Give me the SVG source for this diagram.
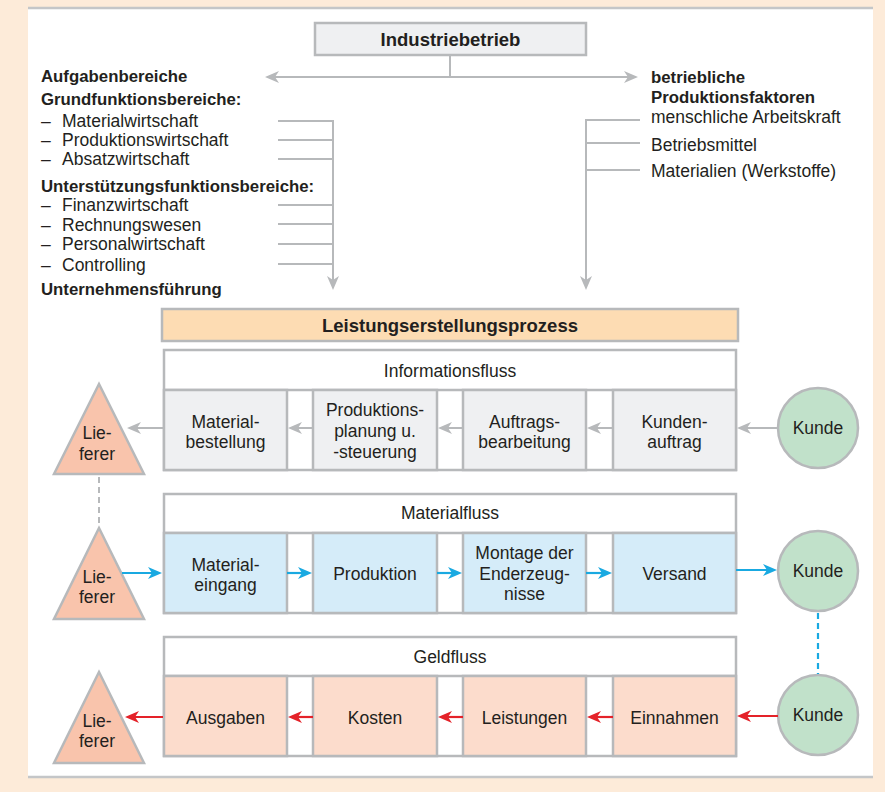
<svg xmlns="http://www.w3.org/2000/svg" width="885" height="792" viewBox="0 0 885 792">
<defs>
<style>
text{font-family:"Liberation Sans",Arial,Helvetica,sans-serif;fill:#231f20;font-size:17.5px}
.b{font-weight:bold;font-size:16.8px}
.c{text-anchor:middle}
.t{font-size:18.5px;font-weight:bold;text-anchor:middle}
.frame{fill:#fff;stroke:#b7b9bb;stroke-width:2.5}
.info{fill:#eff0f2;stroke:#b7b9bb;stroke-width:2.5}
.mat{fill:#d5ecf9;stroke:#b7b9bb;stroke-width:2.5}
.geld{fill:#fcdccc;stroke:#b7b9bb;stroke-width:2.5}
.tri{fill:#f9c4ac;stroke:#b7b9bb;stroke-width:2.5;stroke-linejoin:miter}
.cir{fill:#c1e1ca;stroke:#b7b9bb;stroke-width:2.5}
.gl{stroke:#b7b9bb;stroke-width:2;fill:none}
.bl{stroke:#19a9e1;stroke-width:2.2;fill:none}
.rl{stroke:#e42229;stroke-width:2.2;fill:none}
</style>
<marker id="ag" viewBox="0 0 14 12" refX="10" refY="6" markerWidth="14" markerHeight="12" markerUnits="userSpaceOnUse" orient="auto-start-reverse"><path d="M0,0 L14,6 L0,12 L4,6 z" fill="#b7b9bb"/></marker>
<marker id="ab" viewBox="0 0 14 12" refX="10" refY="6" markerWidth="14" markerHeight="12" markerUnits="userSpaceOnUse" orient="auto"><path d="M0,0 L14,6 L0,12 L4,6 z" fill="#19a9e1"/></marker>
<marker id="ar" viewBox="0 0 14 12" refX="10" refY="6" markerWidth="14" markerHeight="12" markerUnits="userSpaceOnUse" orient="auto"><path d="M0,0 L14,6 L0,12 L4,6 z" fill="#e42229"/></marker>
</defs>
<rect x="0" y="0" width="885" height="792" fill="#fdebd9"/>
<rect x="28" y="8" width="845" height="769" fill="#fff"/>
<line x1="28" y1="8" x2="873" y2="8" stroke="#c4c6c8" stroke-width="2.5"/>
<line x1="28" y1="777" x2="873" y2="777" stroke="#c4c6c8" stroke-width="2.5"/>

<g id="industriebetrieb">
<rect x="315" y="23" width="271" height="32" class="info"/>
<text x="450.5" y="46" class="t">Industriebetrieb</text>
</g>

<g id="aufgabenbereiche">
<text x="41" y="82" class="b">Aufgabenbereiche</text>
<text x="41" y="105" class="b">Grundfunktionsbereiche:</text>
<text x="41" y="127">–</text><text x="62" y="127">Materialwirtschaft</text>
<text x="41" y="146">–</text><text x="62" y="146">Produktionswirtschaft</text>
<text x="41" y="165">–</text><text x="62" y="165">Absatzwirtschaft</text>
<text x="41" y="192" class="b">Unterstützungsfunktionsbereiche:</text>
<text x="41" y="211">–</text><text x="62" y="211">Finanzwirtschaft</text>
<text x="41" y="231">–</text><text x="62" y="231">Rechnungswesen</text>
<text x="41" y="250">–</text><text x="62" y="250">Personalwirtschaft</text>
<text x="41" y="271">–</text><text x="62" y="271">Controlling</text>
<text x="41" y="295" class="b">Unternehmensführung</text>
</g>

<g id="produktionsfaktoren">
<text x="651" y="83" class="b">betriebliche</text>
<text x="651" y="103" class="b">Produktionsfaktoren</text>
<text x="651" y="123">menschliche Arbeitskraft</text>
<text x="651" y="151">Betriebsmittel</text>
<text x="651" y="177">Materialien (Werkstoffe)</text>
</g>

<g id="leistungserstellungsprozess">
<rect x="162" y="309" width="576" height="32" fill="#fddcb3" stroke="#b7b9bb" stroke-width="2.5"/>
<text x="450" y="332" class="t">Leistungserstellungsprozess</text>
</g>

<g id="informationsfluss">
<rect x="164" y="350" width="572" height="120" class="frame"/>
<line x1="164" y1="390" x2="736" y2="390" stroke="#b7b9bb" stroke-width="2.5"/>
<text x="450" y="377" class="c">Informationsfluss</text>
</g>
<g id="materialbestellung"><rect x="164" y="390" width="123" height="80" class="info"/><text x="225.5" y="428" class="c">Material-</text><text x="225.5" y="448" class="c">bestellung</text></g>
<g id="produktionsplanung"><rect x="313" y="390" width="124" height="80" class="info"/><text x="375" y="416" class="c">Produktions-</text><text x="375" y="437" class="c">planung u.</text><text x="375" y="458" class="c">-steuerung</text></g>
<g id="auftragsbearbeitung"><rect x="463" y="390" width="123" height="80" class="info"/><text x="524.5" y="428" class="c">Auftrags-</text><text x="524.5" y="448" class="c">bearbeitung</text></g>
<g id="kundenauftrag"><rect x="613" y="390" width="123" height="80" class="info"/><text x="674.5" y="428" class="c">Kunden-</text><text x="674.5" y="448" class="c">auftrag</text></g>
<g id="lieferer1"><polygon points="99,384 54,474 144,474" class="tri"/><text x="97" y="439" class="c">Lie-</text><text x="97" y="460" class="c">ferer</text></g>
<g id="kunde1"><circle cx="818" cy="428" r="40" class="cir"/><text x="818" y="434" class="c">Kunde</text></g>

<g id="materialfluss">
<rect x="164" y="494" width="572" height="119" class="frame"/>
<line x1="164" y1="533" x2="736" y2="533" stroke="#b7b9bb" stroke-width="2.5"/>
<text x="450" y="519" class="c">Materialfluss</text>
</g>
<g id="materialeingang"><rect x="164" y="533" width="123" height="80" class="mat"/><text x="225.5" y="571" class="c">Material-</text><text x="225.5" y="591" class="c">eingang</text></g>
<g id="produktion"><rect x="313" y="533" width="124" height="80" class="mat"/><text x="375" y="580" class="c">Produktion</text></g>
<g id="montage"><rect x="463" y="533" width="123" height="80" class="mat"/><text x="524.5" y="559" class="c">Montage der</text><text x="524.5" y="580" class="c">Enderzeug-</text><text x="524.5" y="600" class="c">nisse</text></g>
<g id="versand"><rect x="613" y="533" width="123" height="80" class="mat"/><text x="674.5" y="580" class="c">Versand</text></g>
<g id="lieferer2"><polygon points="99,528 54,619 144,619" class="tri"/><text x="97" y="583" class="c">Lie-</text><text x="97" y="603" class="c">ferer</text></g>
<g id="kunde2"><circle cx="818" cy="571" r="40" class="cir"/><text x="818" y="577" class="c">Kunde</text></g>

<g id="geldfluss">
<rect x="164" y="637" width="572" height="119" class="frame"/>
<line x1="164" y1="676" x2="736" y2="676" stroke="#b7b9bb" stroke-width="2.5"/>
<text x="450" y="663" class="c">Geldfluss</text>
</g>
<g id="ausgaben"><rect x="164" y="676" width="123" height="80" class="geld"/><text x="225.5" y="724" class="c">Ausgaben</text></g>
<g id="kosten"><rect x="313" y="676" width="124" height="80" class="geld"/><text x="375" y="724" class="c">Kosten</text></g>
<g id="leistungen"><rect x="463" y="676" width="123" height="80" class="geld"/><text x="524.5" y="724" class="c">Leistungen</text></g>
<g id="einnahmen"><rect x="613" y="676" width="123" height="80" class="geld"/><text x="674.5" y="724" class="c">Einnahmen</text></g>
<g id="lieferer3"><polygon points="99,672 54,763 144,763" class="tri"/><text x="97" y="727" class="c">Lie-</text><text x="97" y="747" class="c">ferer</text></g>
<g id="kunde3"><circle cx="818" cy="715" r="40" class="cir"/><text x="818" y="721" class="c">Kunde</text></g>

<g id="connectors">
<line x1="450" y1="55" x2="450" y2="77" class="gl"/>
<line x1="269" y1="77" x2="634" y2="77" class="gl" marker-start="url(#ag)" marker-end="url(#ag)"/>
<path d="M278,121 H333 M278,140 H333 M278,159 H333 M278,205 H333 M278,224 H333 M278,244 H333 M278,264 H333" class="gl"/>
<line x1="333" y1="120" x2="333" y2="286" class="gl" marker-end="url(#ag)"/>
<path d="M640,120 H586 M640,143 H586 M640,170 H586" class="gl"/>
<line x1="586" y1="119" x2="586" y2="286" class="gl" marker-end="url(#ag)"/>

<line x1="778" y1="428" x2="741" y2="428" class="gl" marker-end="url(#ag)"/>
<line x1="613" y1="428" x2="591" y2="428" class="gl" marker-end="url(#ag)"/>
<line x1="463" y1="428" x2="442" y2="428" class="gl" marker-end="url(#ag)"/>
<line x1="313" y1="428" x2="292" y2="428" class="gl" marker-end="url(#ag)"/>
<line x1="163" y1="428" x2="131" y2="428" class="gl" marker-end="url(#ag)"/>
<line x1="99" y1="477" x2="99" y2="526" class="gl" stroke-dasharray="6,4"/>

<line x1="122" y1="573" x2="158" y2="573" class="bl" marker-end="url(#ab)"/>
<line x1="287" y1="573" x2="308" y2="573" class="bl" marker-end="url(#ab)"/>
<line x1="437" y1="573" x2="458" y2="573" class="bl" marker-end="url(#ab)"/>
<line x1="586" y1="573" x2="608" y2="573" class="bl" marker-end="url(#ab)"/>
<line x1="736" y1="570" x2="773" y2="570" class="bl" marker-end="url(#ab)"/>
<line x1="818" y1="613" x2="818" y2="674" class="bl" stroke-dasharray="6,4"/>

<line x1="778" y1="716" x2="741" y2="716" class="rl" marker-end="url(#ar)"/>
<line x1="613" y1="717" x2="591" y2="717" class="rl" marker-end="url(#ar)"/>
<line x1="463" y1="717" x2="442" y2="717" class="rl" marker-end="url(#ar)"/>
<line x1="313" y1="717" x2="292" y2="717" class="rl" marker-end="url(#ar)"/>
<line x1="163" y1="717" x2="129" y2="717" class="rl" marker-end="url(#ar)"/>
</g>
</svg>
